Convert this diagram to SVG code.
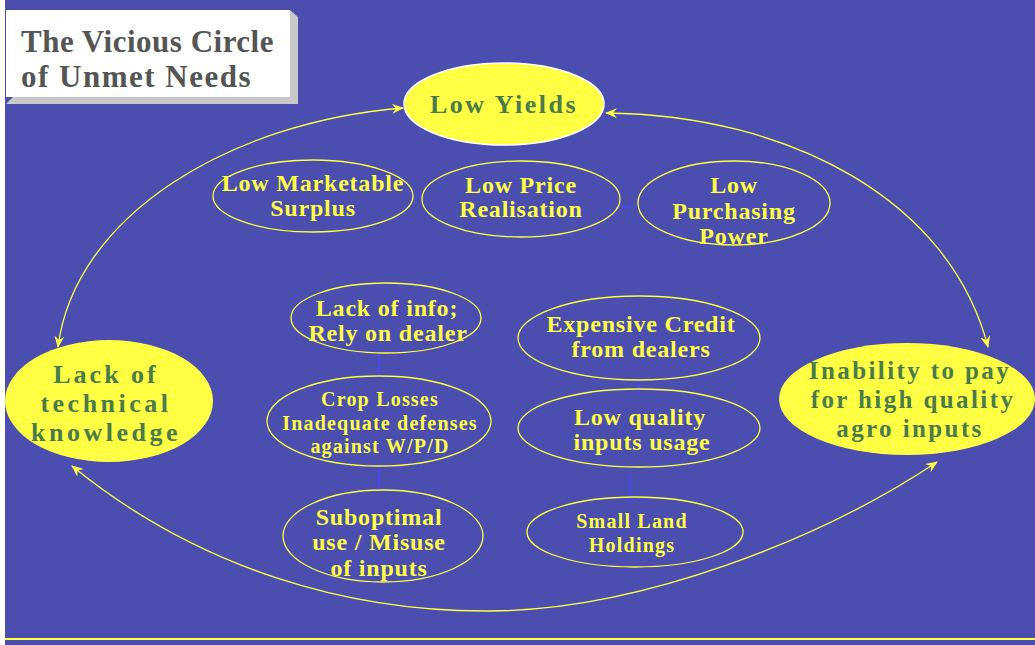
<svg xmlns="http://www.w3.org/2000/svg" width="1035" height="645" viewBox="0 0 1035 645">
<style>
.bg{fill:#4B4DAF}
.t{font-family:"Liberation Serif","Times New Roman",serif;font-weight:bold;text-anchor:middle}
.y{fill:#FFFF44;font-size:24px;letter-spacing:0.8px}
.s{font-size:20px;letter-spacing:1.2px}
.g{fill:#4A7B4A;font-size:25px;letter-spacing:2.4px}
.oe{fill:none;stroke:#FFFF44;stroke-width:1.3}
.fe{fill:#FFFF44}
.arc{fill:none;stroke:#FFFF44;stroke-width:1.3;marker-start:url(#ah);marker-end:url(#ah)}
.blink{stroke:#4646FF;stroke-width:1.5}
</style>
<defs>
<marker id="ah" viewBox="0 0 12 10" refX="11" refY="5" markerWidth="12" markerHeight="10" markerUnits="userSpaceOnUse" orient="auto-start-reverse">
<path d="M0,0 L12,5 L0,10 L4,5 Z" fill="#FFFF44"/>
</marker>
</defs>
<rect class="bg" x="0" y="0" width="1035" height="645"/>
<rect x="0" y="0" width="5" height="645" fill="#FFFFFF"/>
<line x1="5" y1="639" x2="1035" y2="639" stroke="#FFFF44" stroke-width="2"/>

<g id="title">
<polygon points="290,10 298,17 298,104 6,104 13,97 290,97" fill="#C8C8C8"/>
<rect x="6" y="10" width="284" height="87" fill="#FFFFFF"/>
<text class="t" x="21" y="52" font-size="31" fill="#555555" letter-spacing="0.5" style="text-anchor:start">The Vicious Circle</text>
<text class="t" x="21" y="87" font-size="31" fill="#555555" letter-spacing="1.5" style="text-anchor:start">of Unmet Needs</text>
</g>

<g id="connectors">
<path class="arc" d="M403,108 C230,122 75,215 58,347"/>
<path class="arc" d="M606,113 C790,115 950,200 988,347"/>
<path class="arc" d="M72,466 C200,570 350,612 490,611 C640,610 820,540 937,462"/>
<line class="blink" x1="414" y1="196" x2="421" y2="196"/>
<line class="blink" x1="622" y1="207" x2="631" y2="207"/>
<line class="blink" x1="379" y1="355" x2="379" y2="375"/>
<line class="blink" x1="379" y1="468" x2="379" y2="488"/>
<line class="blink" x1="639" y1="381" x2="639" y2="394"/>
<line class="blink" x1="630" y1="474" x2="630" y2="502"/>
</g>

<g id="low-yields">
<ellipse cx="504" cy="104" rx="100" ry="41" class="fe" stroke="#FFFFFF" stroke-width="1.5"/>
<text class="t g" x="504" y="113" style="font-size:26px;letter-spacing:2.5px">Low Yields</text>
</g>

<g id="lack-tech">
<ellipse cx="109" cy="401" rx="104" ry="61" class="fe"/>
<text class="t g" x="106" y="383" style="font-size:26px;letter-spacing:3px">Lack of</text>
<text class="t g" x="106" y="412" style="font-size:26px;letter-spacing:3.5px">technical</text>
<text class="t g" x="106" y="441" style="font-size:26px;letter-spacing:3.5px">knowledge</text>
</g>

<g id="inability">
<ellipse cx="907" cy="399" rx="128" ry="56" class="fe"/>
<text class="t g" x="910" y="379">Inability to pay</text>
<text class="t g" x="913" y="408">for  high quality</text>
<text class="t g" x="910" y="437">agro inputs</text>
</g>

<g id="marketable">
<ellipse cx="313" cy="196" rx="100" ry="36" class="oe"/>
<text class="t y" x="313" y="191">Low Marketable</text>
<text class="t y" x="313" y="216">Surplus</text>
</g>

<g id="price">
<ellipse cx="521" cy="199" rx="99" ry="38" class="oe"/>
<text class="t y" x="521" y="193">Low Price</text>
<text class="t y" x="521" y="217">Realisation</text>
</g>

<g id="purchasing">
<ellipse cx="734" cy="203" rx="96" ry="42" class="oe"/>
<text class="t y" x="734" y="193">Low</text>
<text class="t y" x="734" y="219">Purchasing</text>
<text class="t y" x="734" y="244">Power</text>
</g>

<g id="lack-info">
<ellipse cx="386" cy="318" rx="95" ry="35" class="oe"/>
<text class="t y" x="387" y="316">Lack of info;</text>
<text class="t y" x="388" y="341">Rely on dealer</text>
</g>

<g id="crop-losses">
<ellipse cx="379" cy="421" rx="112" ry="45" class="oe"/>
<text class="t y s" x="380" y="406">Crop Losses</text>
<text class="t y s" x="380" y="430">Inadequate defenses</text>
<text class="t y s" x="380" y="453">against W/P/D</text>
</g>

<g id="suboptimal">
<ellipse cx="383" cy="536" rx="100" ry="46" class="oe"/>
<text class="t y" x="379" y="525">Suboptimal</text>
<text class="t y" x="379" y="550">use / Misuse</text>
<text class="t y" x="379" y="576">of inputs</text>
</g>

<g id="expensive-credit">
<ellipse cx="639" cy="338" rx="121" ry="42" class="oe"/>
<text class="t y" x="641" y="332">Expensive Credit</text>
<text class="t y" x="641" y="357">from dealers</text>
</g>

<g id="low-quality">
<ellipse cx="639" cy="428" rx="121" ry="39" class="oe"/>
<text class="t y" x="640" y="425">Low quality</text>
<text class="t y" x="642" y="450">inputs usage</text>
</g>

<g id="small-land">
<ellipse cx="635" cy="532" rx="108" ry="35" class="oe"/>
<text class="t y s" x="632" y="528">Small Land</text>
<text class="t y s" x="632" y="552">Holdings</text>
</g>
</svg>
